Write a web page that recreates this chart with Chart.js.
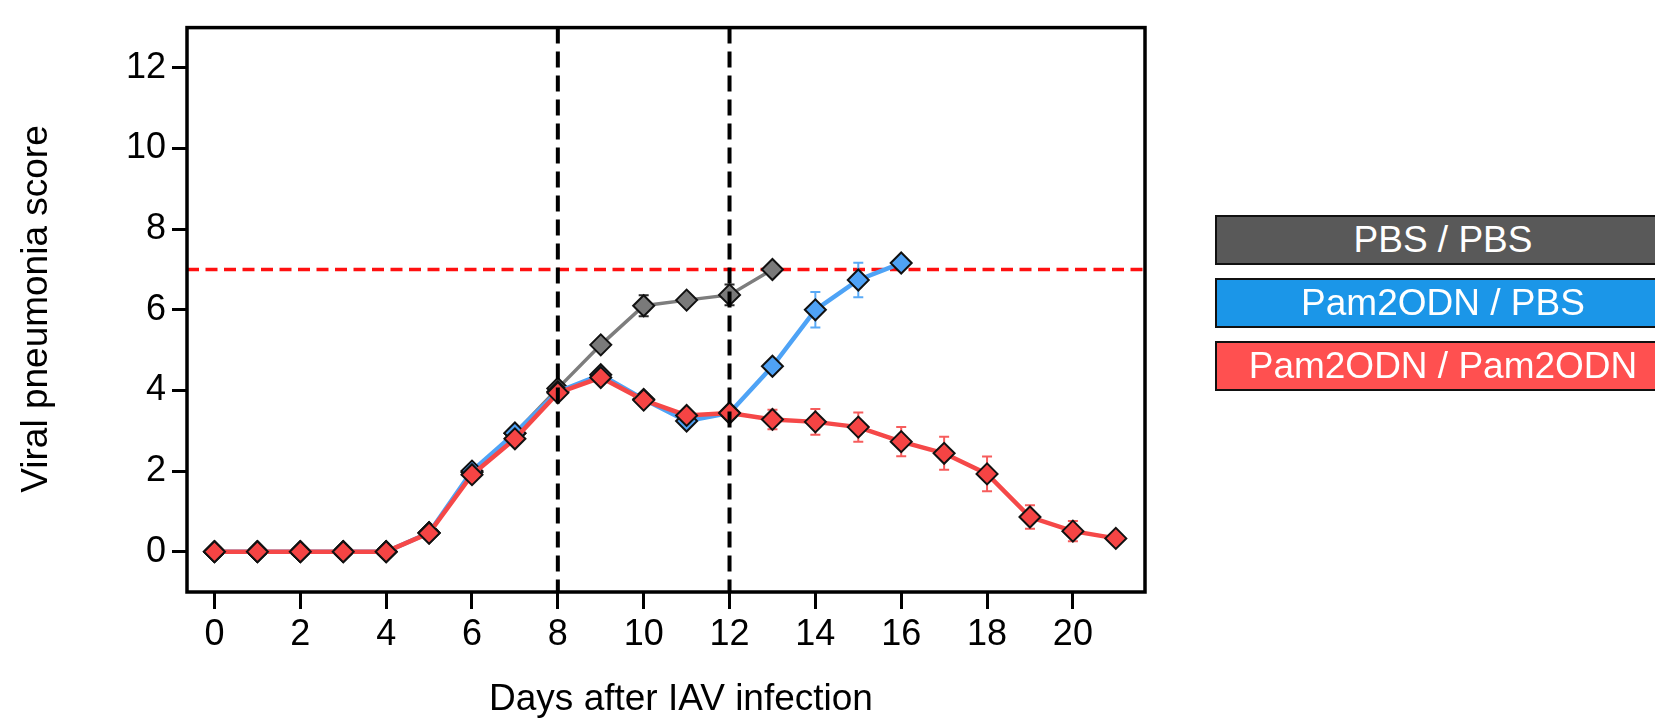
<!DOCTYPE html>
<html>
<head>
<meta charset="utf-8">
<script src="https://cdn.jsdelivr.net/npm/chart.js@4/dist/chart.umd.min.js"></script>
<style>
  html, body { margin: 0; padding: 0; background: #fff; overflow: hidden; }
  #wrap { position: relative; width: 1655px; height: 723px; overflow: hidden; }
  .key {
    position: absolute; left: 1215px; width: 452px; height: 46px;
    border: 2px solid #111; box-sizing: content-box;
    color: #fff; font: 37px "Liberation Sans", Arial, sans-serif;
    line-height: 46px; text-align: center; white-space: nowrap;
  }
</style>
</head>
<body>
<div id="wrap">
  <canvas id="scoreChart" width="1655" height="723"></canvas>
  <div class="key" style="top:215px;background:#595959">PBS / PBS</div>
  <div class="key" style="top:278px;background:#1b96e8">Pam2ODN / PBS</div>
  <div class="key" style="top:341px;background:#ff5050">Pam2ODN / Pam2ODN</div>
</div>
<script>
// days after infection
const DAYS = [0, 1, 2, 3, 4, 5, 6, 7, 8, 9, 10, 11, 12, 13, 14, 15, 16, 17, 18, 19, 20, 21];
const X_TICKS = [0, 2, 4, 6, 8, 10, 12, 14, 16, 18, 20];
const Y_TICKS = [0, 2, 4, 6, 8, 10, 12];

// PBS / PBS (stops at day 13)
const pbsMean = [0, 0, 0, 0, 0, 0.47, 1.97, 2.94, 4.05, 5.13, 6.10, 6.24, 6.37, 7.0];
const pbsSem  = [0, 0, 0, 0, 0, 0, 0, 0, 0, 0, 0.26, 0, 0.26, 0];

// Pam2ODN / PBS (stops at day 16)
const pamPbsMean = [0, 0, 0, 0, 0, 0.47, 2.0, 2.94, 3.97, 4.39, 3.78, 3.24, 3.44, 4.60, 6.0, 6.74, 7.16];
const pamPbsSem  = [0, 0, 0, 0, 0, 0, 0, 0, 0, 0, 0, 0, 0, 0.12, 0.44, 0.43, 0];

// Pam2ODN / Pam2ODN
const pamPamMean = [0, 0, 0, 0, 0, 0.46, 1.91, 2.80, 3.94, 4.32, 3.76, 3.38, 3.44, 3.28, 3.22, 3.09, 2.73, 2.44, 1.93, 0.86, 0.51, 0.33];
const pamPamSem  = [0, 0, 0, 0, 0, 0, 0, 0, 0, 0, 0, 0, 0, 0.24, 0.32, 0.36, 0.36, 0.41, 0.43, 0.29, 0.25, 0];

// reference lines
const TREATMENT_DAYS = [8, 12];
const CUTOFF_SCORE = 7;

const X_TITLE = "Days after IAV infection";
const Y_TITLE = "Viral pneumonia score";
const FONT = "'Liberation Sans', Arial, sans-serif";

function toPoints(vals) {
  return vals.map((v, i) => ({ x: DAYS[i], y: v }));
}

const series = [
  { label: "Pam2ODN / Pam2ODN", mean: pamPamMean, sem: pamPamSem, line: "#f54848", fill: "#f54444", err: "#f65c5c", width: 4.5 },
  { label: "Pam2ODN / PBS", mean: pamPbsMean, sem: pamPbsSem, line: "#4ea3f6", fill: "#4fa2f5", err: "#5aaaf6", width: 4.5 },
  { label: "PBS / PBS", mean: pbsMean, sem: pbsSem, line: "#7d7d7d", fill: "#7a7a7a", err: "#2a2a2a", width: 3.5 },
];

// error bars + red cutoff, under the lines
const underPlugin = {
  id: "under",
  beforeDatasetsDraw(chart) {
    const { ctx, chartArea, scales: { x, y } } = chart;
    ctx.save();
    // cutoff line
    ctx.strokeStyle = "#ff1010";
    ctx.lineWidth = 3.5;
    ctx.setLineDash([12, 6.5]);
    const yc = y.getPixelForValue(CUTOFF_SCORE);
    ctx.beginPath();
    ctx.moveTo(chartArea.left, yc);
    ctx.lineTo(chartArea.right, yc);
    ctx.stroke();
    ctx.setLineDash([]);
    // SEM bars
    series.forEach((s) => {
      ctx.strokeStyle = s.err;
      ctx.lineWidth = 2;
      s.sem.forEach((e, i) => {
        if (!e) return;
        const px = x.getPixelForValue(DAYS[i]);
        const top = y.getPixelForValue(s.mean[i] + e);
        const bot = y.getPixelForValue(s.mean[i] - e);
        ctx.beginPath();
        ctx.moveTo(px, top); ctx.lineTo(px, bot);
        ctx.moveTo(px - 5, top); ctx.lineTo(px + 5, top);
        ctx.moveTo(px - 5, bot); ctx.lineTo(px + 5, bot);
        ctx.stroke();
      });
    });
    ctx.restore();
  },
};

// treatment days, frame and axis titles, over everything
const overPlugin = {
  id: "over",
  afterDatasetsDraw(chart) {
    const { ctx, chartArea, scales: { x } } = chart;
    ctx.save();
    ctx.strokeStyle = "#000";
    ctx.lineWidth = 4;
    ctx.setLineDash([16, 8]);
    TREATMENT_DAYS.forEach((d) => {
      const px = x.getPixelForValue(d);
      ctx.beginPath();
      ctx.moveTo(px, chartArea.top);
      ctx.lineTo(px, chartArea.bottom);
      ctx.stroke();
    });
    ctx.setLineDash([]);
    ctx.lineWidth = 3.5;
    ctx.strokeRect(chartArea.left, chartArea.top, chartArea.right - chartArea.left, chartArea.bottom - chartArea.top);
    ctx.restore();
  },
  afterDraw(chart) {
    const { ctx } = chart;
    ctx.save();
    ctx.fillStyle = "#000";
    ctx.font = "37px " + FONT;
    ctx.textAlign = "center";
    ctx.textBaseline = "alphabetic";
    ctx.fillText(X_TITLE, 681, 710);
    ctx.translate(47, 309);
    ctx.rotate(-Math.PI / 2);
    ctx.fillText(Y_TITLE, 0, 0);
    ctx.restore();
  },
};

const ctx = document.getElementById("scoreChart").getContext("2d");
new Chart(ctx, {
  type: "line",
  data: {
    datasets: series.map((s) => ({
      label: s.label,
      data: toPoints(s.mean),
      borderColor: s.line,
      borderWidth: s.width,
      backgroundColor: s.fill,
      pointStyle: "rectRot",
      pointRadius: 10.5,
      pointHoverRadius: 10.5,
      pointBackgroundColor: s.fill,
      pointBorderColor: "#111",
      pointBorderWidth: 2,
      tension: 0,
      fill: false,
    })),
  },
  options: {
    responsive: false,
    devicePixelRatio: 1,
    animation: false,
    events: [],
    layout: { padding: { top: 16, right: 510, left: 0, bottom: 0 } },
    plugins: { legend: { display: false }, tooltip: { enabled: false } },
    scales: {
      x: {
        type: "linear",
        min: -0.64,
        max: 21.68,
        afterFit: (scale) => { scale.height = 131; },
        afterBuildTicks: (scale) => { scale.ticks = X_TICKS.map((v) => ({ value: v })); },
        grid: { drawOnChartArea: false, tickLength: 17, color: "#000", lineWidth: 3 },
        border: { display: false },
        ticks: { color: "#000", font: { family: FONT, size: 36 }, padding: 4, maxRotation: 0 },
      },
      y: {
        min: -1,
        max: 13,
        afterFit: (scale) => { scale.width = 187; },
        afterBuildTicks: (scale) => { scale.ticks = Y_TICKS.map((v) => ({ value: v })); },
        grid: { drawOnChartArea: false, tickLength: 15, color: "#000", lineWidth: 3 },
        border: { display: false },
        ticks: { color: "#000", font: { family: FONT, size: 36 }, padding: 6 },
      },
    },
  },
  plugins: [underPlugin, overPlugin],
});
</script>
</body>
</html>
